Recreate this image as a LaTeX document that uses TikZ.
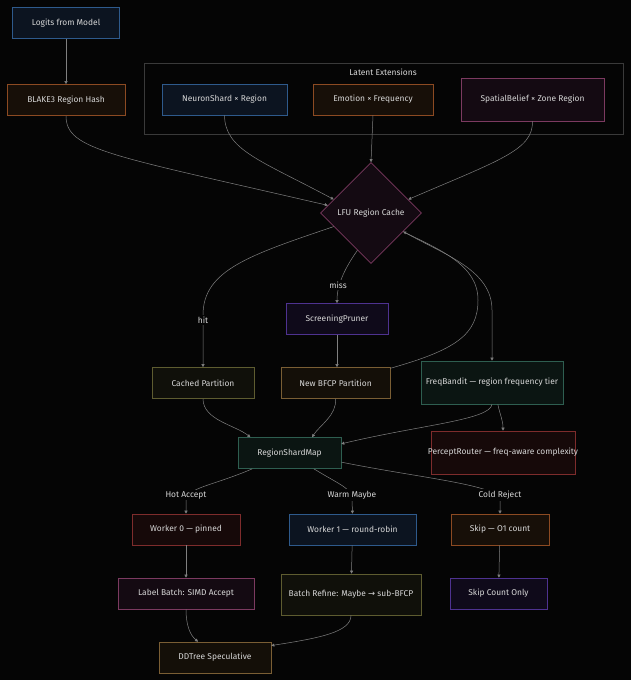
\documentclass[tikz,border=0pt]{standalone}
\usepackage{fontspec}
\setmainfont{Fira Sans}
\newfontfamily\symfont{DejaVu Sans}
\usetikzlibrary{shapes.geometric,arrows.meta}

\definecolor{bg}{HTML}{050505}
\definecolor{txt}{HTML}{D6D6D6}
\definecolor{edgec}{HTML}{808080}
\definecolor{clus}{HTML}{3A3A3A}
\definecolor{bluB}{HTML}{2E5A8C}\definecolor{bluF}{HTML}{0C1420}
\definecolor{orgB}{HTML}{8C4A22}\definecolor{orgF}{HTML}{170F08}
\definecolor{pnkB}{HTML}{7C3A60}\definecolor{pnkF}{HTML}{140A12}
\definecolor{purB}{HTML}{4E3290}\definecolor{purF}{HTML}{0F0A1A}
\definecolor{olvB}{HTML}{5E5C30}\definecolor{olvF}{HTML}{10100A}
\definecolor{brnB}{HTML}{7A5E34}\definecolor{brnF}{HTML}{140F08}
\definecolor{tealB}{HTML}{2E5E50}\definecolor{tealF}{HTML}{0B1512}
\definecolor{redB}{HTML}{7E2C2C}\definecolor{redF}{HTML}{160909}

\begin{document}
\begin{tikzpicture}[x=1pt,y=-1pt,
  font=\fontsize{8.4pt}{10pt}\selectfont,
  box/.style={draw, rectangle, line width=0.6pt, minimum height=31pt, text=txt},
  blu/.style={box, draw=bluB, fill=bluF},
  org/.style={box, draw=orgB, fill=orgF},
  pnk/.style={box, draw=pnkB, fill=pnkF},
  pur/.style={box, draw=purB, fill=purF},
  olv/.style={box, draw=olvB, fill=olvF},
  brn/.style={box, draw=brnB, fill=brnF},
  tealbox/.style={box, draw=tealB, fill=tealF},
  redbox/.style={box, draw=redB, fill=redF},
  edge/.style={edgec, line width=0.5pt, -{Triangle[length=3pt,width=3pt]}},
  elbl/.style={fill=bg, text=txt, inner sep=1.5pt}]

\path[fill=bg] (0,0) rectangle (631,680);

% cluster
\node[draw=clus, line width=0.6pt, minimum width=479pt, minimum height=71pt] (latent) at (383.5,98.5) {};
\node[text=txt] (latentlbl) at (383,72) {Latent Extensions};

\node[blu, minimum width=107pt] (logits) at (66,23) {Logits from Model};
\node[org, minimum width=118pt] (blake) at (66,100) {BLAKE3 Region Hash};
\node[blu, minimum width=125pt] (neuron) at (224.5,99.5) {NeuronShard × Region};
\node[org, minimum width=120pt] (emotion) at (373,99.5) {Emotion × Frequency};
\node[pnk, minimum width=143pt, minimum height=43pt] (spatial) at (532.5,99.5) {SpatialBelief × Zone Region};
\node[diamond, draw=pnkB, fill=pnkF, line width=0.6pt, minimum size=101pt, inner sep=0pt, text=txt] (lfu) at (371,213) {LFU Region Cache};
\node[pur, minimum width=102pt] (screen) at (337,319) {ScreeningPruner};
\node[olv, minimum width=102pt] (cached) at (203,383) {Cached Partition};
\node[brn, minimum width=109pt] (newbfcp) at (335.5,383) {New BFCP Partition};
\node[tealbox, minimum width=142pt, minimum height=43pt] (freq) at (492,382.5) {\makebox[130pt]{FreqBandit — region frequency tier}};
\node[tealbox, minimum width=103pt] (rsm) at (289.5,453) {RegionShardMap};
\node[redbox, minimum width=144pt, minimum height=43pt] (percept) at (503,452.5) {\makebox[130pt]{PerceptRouter — freq-aware complexity}};
\node[redbox, minimum width=108pt] (w0) at (186,529.5) {Worker 0 — pinned};
\node[blu, minimum width=127pt] (w1) at (352.5,529.5) {Worker 1 — round-robin};
\node[org, minimum width=98pt] (skip) at (500,529.5) {Skip — O1 count};
\node[pnk, minimum width=136pt] (label) at (186,593.5) {Label Batch: SIMD Accept};
\node[olv, minimum width=140pt, minimum height=41pt] (refine) at (351,594.5) {\makebox[126pt]{Batch Refine: Maybe {\symfont →} sub-BFCP}};
\node[pur, minimum width=97pt] (skipcnt) at (498.5,593.5) {Skip Count Only};
\node[brn, minimum width=112pt] (ddtree) at (215,657.5) {DDTree Speculative};

\path[draw,edge] (logits) -- (blake);
\path[draw,edge] (blake.south) .. controls (66,150) and (110,155) .. (lfu.170);
\path[draw,edge] (neuron.south) .. controls (225,150) and (260,160) .. (lfu.160);
\path[draw,edge] (emotion.south) -- (lfu.north);
\path[draw,edge] (spatial.south) .. controls (533,150) and (500,160) .. (lfu.20);
\path[draw,edge] (lfu.200) .. controls (250,255) and (203,270) .. (203,315) -- (cached.north);
\path[draw,edge] (lfu.250) .. controls (340,275) and (337,290) .. (screen.north);
\path[draw,edge] (screen.south) -- (screen.south |- newbfcp.north);
\path[draw,edge] (newbfcp.15) .. controls (455,350) and (478,335) .. (478,300) .. controls (478,265) and (440,250) .. (lfu.-30);
\path[draw,edge] (lfu.-30) .. controls (445,255) and (492,270) .. (492,310) -- (freq.north);
\path[draw,edge] (cached.south) .. controls (203,420) and (235,425) .. (rsm.158);
\path[draw,edge] (newbfcp.south) .. controls (337,415) and (320,425) .. (rsm.35);
\path[draw,edge] (freq.south) .. controls (490,420) and (420,425) .. (rsm.10);
\path[draw,edge] (freq.-75) .. controls (500,415) and (503,420) .. (percept.north);
\path[draw,edge] (rsm.-157) .. controls (215,485) and (186,488) .. (186,500) -- (w0.north);
\path[draw,edge] (rsm.-33) .. controls (340,485) and (352,488) .. (352,500) -- (w1.north);
\path[draw,edge] (rsm.-10) .. controls (420,478) and (500,485) .. (500,500) -- (skip.north);
\path[draw,edge] (w0) -- (label);
\path[draw,edge] (w1) -- (refine);
\path[draw,edge] (skip) -- (skipcnt);
\path[draw,edge] (label.south) .. controls (186,625) and (190,635) .. (ddtree.137);
\path[draw,edge] (refine.south) .. controls (351,632) and (320,638) .. (ddtree.12);

% edge labels
\node[elbl] (hitlbl) at (203,320) {hit};
\node[elbl] (misslbl) at (338,285) {miss};
\node[elbl] (hotlbl) at (186,495) {Hot Accept};
\node[elbl] (warmlbl) at (352,495) {Warm Maybe};
\node[elbl] (coldlbl) at (500,495) {Cold Reject};
\end{tikzpicture}
\end{document}
